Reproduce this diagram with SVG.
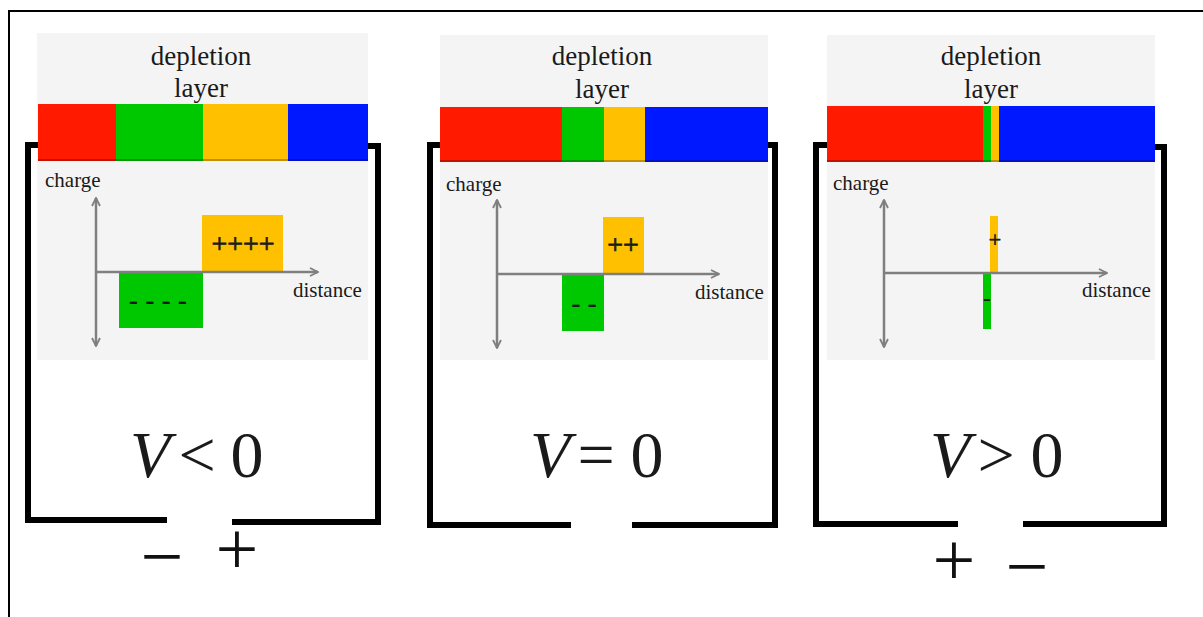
<svg xmlns="http://www.w3.org/2000/svg" width="1203" height="617" viewBox="0 0 1203 617">
  <defs>
    <style>
      .bg { fill: #f4f4f4; }
      .serif { font-family: "Liberation Serif", "Times New Roman", serif; fill: #1a1a1a; }
      .lbl { font-size: 27px; text-anchor: middle; }
      .axlbl { font-size: 21px; }
      .sign { font-size: 28px; text-anchor: middle; stroke: #1a1a1a; stroke-width: 0.7; }
      .neg { font-size: 28px; font-weight: bold; text-anchor: middle; }
      .eq { font-size: 66px; }
      .pol { font-size: 76px; text-anchor: middle; fill: #111; }
      .axis { stroke: #7f7f7f; stroke-width: 2.5; fill: none; }
      .wire { stroke: #000; stroke-width: 6; fill: none; stroke-linejoin: miter; }
      .frame { stroke: #000; stroke-width: 2; fill: none; }
      .red { fill: #ff1a00; }
      .green { fill: #00c800; }
      .yellow { fill: #ffc000; }
      .blue { fill: #0018ff; }
    </style>
    <marker id="chev" viewBox="0 0 10 10" refX="9" refY="5" markerWidth="10" markerHeight="10" markerUnits="userSpaceOnUse" orient="auto-start-reverse">
      <path d="M1,1 L9,5 L1,9" fill="none" stroke="#7f7f7f" stroke-width="1.8"/>
    </marker>
  </defs>

  <rect width="1203" height="617" fill="#fff"/>
  <!-- outer frame -->
  <path class="frame" d="M9,617 L9,11 L1203,11"/>

  <!-- V < 0 -->
  <g id="panel-reverse">
    <rect class="bg" x="37" y="33" width="331" height="327"/>
    <text class="serif lbl" x="201" y="65">depletion</text>
    <text class="serif lbl" x="201" y="97">layer</text>
    <rect class="red" x="38" y="104" width="78" height="57"/>
    <rect class="green" x="116" y="104" width="87" height="57"/>
    <rect class="yellow" x="203" y="104" width="85" height="57"/>
    <rect class="blue" x="288" y="104" width="80" height="57"/>
    <rect x="38" y="159" width="330" height="2" fill="#000" opacity="0.25"/>
    <text class="serif axlbl" x="45" y="187">charge</text>
    <text class="serif axlbl" x="293" y="297">distance</text>
    <rect class="yellow" x="202" y="215" width="81" height="57"/>
    <rect class="green" x="119" y="272" width="84" height="56"/>
    <line class="axis" x1="96" y1="198" x2="96" y2="346" marker-start="url(#chev)" marker-end="url(#chev)"/>
    <line class="axis" x1="96" y1="272" x2="318" y2="272" marker-end="url(#chev)"/>
    <text class="serif sign" x="243" y="253">++++</text>
    <text class="serif neg" x="158" y="309">- - - -</text>
    <path class="wire" d="M38,145 L28,145 L28,520 L167,520"/>
    <path class="wire" d="M368,146 L378,146 L378,522 L232,522"/>
    <text class="serif eq" x="130" y="477"><tspan font-style="italic">V</tspan></text>
    <text class="serif eq" x="197" y="477" text-anchor="middle">&lt;</text>
    <text class="serif eq" x="247" y="477" text-anchor="middle">0</text>
    <text class="serif pol" x="162" y="582">−</text>
    <text class="serif pol" x="237" y="574">+</text>
  </g>

  <!-- V = 0 -->
  <g id="panel-equilibrium">
    <rect class="bg" x="440" y="35" width="328" height="325"/>
    <text class="serif lbl" x="602" y="65">depletion</text>
    <text class="serif lbl" x="602" y="98">layer</text>
    <rect class="red" x="440" y="107" width="122" height="55"/>
    <rect class="green" x="562" y="107" width="42" height="55"/>
    <rect class="yellow" x="604" y="107" width="41" height="55"/>
    <rect class="blue" x="645" y="107" width="123" height="55"/>
    <rect x="440" y="160" width="328" height="2" fill="#000" opacity="0.25"/>
    <text class="serif axlbl" x="446" y="191">charge</text>
    <text class="serif axlbl" x="695" y="299">distance</text>
    <rect class="yellow" x="603" y="217" width="41" height="57"/>
    <rect class="green" x="562" y="274" width="42" height="57"/>
    <line class="axis" x1="497" y1="200" x2="497" y2="348" marker-start="url(#chev)" marker-end="url(#chev)"/>
    <line class="axis" x1="497" y1="274" x2="719" y2="274" marker-end="url(#chev)"/>
    <text class="serif sign" x="623" y="254">++</text>
    <text class="serif neg" x="584" y="312">- -</text>
    <path class="wire" d="M440,145 L430,145 L430,525 L571,525"/>
    <path class="wire" d="M768,145 L775,145 L775,525 L632,525"/>
    <text class="serif eq" x="530" y="477"><tspan font-style="italic">V</tspan></text>
    <text class="serif eq" x="596" y="477" text-anchor="middle">=</text>
    <text class="serif eq" x="647" y="477" text-anchor="middle">0</text>
  </g>

  <!-- V > 0 -->
  <g id="panel-forward">
    <rect class="bg" x="827" y="35" width="328" height="325"/>
    <text class="serif lbl" x="991" y="65">depletion</text>
    <text class="serif lbl" x="991" y="98">layer</text>
    <rect class="red" x="827" y="106" width="156" height="56"/>
    <rect class="green" x="983" y="106" width="8" height="56"/>
    <rect class="yellow" x="991" y="106" width="8" height="56"/>
    <rect class="blue" x="999" y="106" width="156" height="56"/>
    <rect x="827" y="160" width="328" height="2" fill="#000" opacity="0.25"/>
    <text class="serif axlbl" x="833" y="190">charge</text>
    <text class="serif axlbl" x="1082" y="297">distance</text>
    <rect class="yellow" x="990" y="216" width="8" height="57"/>
    <rect class="green" x="983" y="273" width="8" height="56"/>
    <line class="axis" x1="884" y1="200" x2="884" y2="347" marker-start="url(#chev)" marker-end="url(#chev)"/>
    <line class="axis" x1="884" y1="273" x2="1107" y2="273" marker-end="url(#chev)"/>
    <text class="serif" x="995" y="247" font-size="22" text-anchor="middle" stroke="#1a1a1a" stroke-width="0.6">+</text>
    <text class="serif" x="987" y="306" font-size="24" font-weight="bold" text-anchor="middle">-</text>
    <path class="wire" d="M827,145 L816,145 L816,524 L958,524"/>
    <path class="wire" d="M1155,147 L1164,147 L1164,524 L1023,524"/>
    <text class="serif eq" x="930" y="477"><tspan font-style="italic">V</tspan></text>
    <text class="serif eq" x="996" y="477" text-anchor="middle">&gt;</text>
    <text class="serif eq" x="1047" y="477" text-anchor="middle">0</text>
    <text class="serif pol" x="954" y="585">+</text>
    <text class="serif pol" x="1027" y="592">−</text>
  </g>
</svg>
